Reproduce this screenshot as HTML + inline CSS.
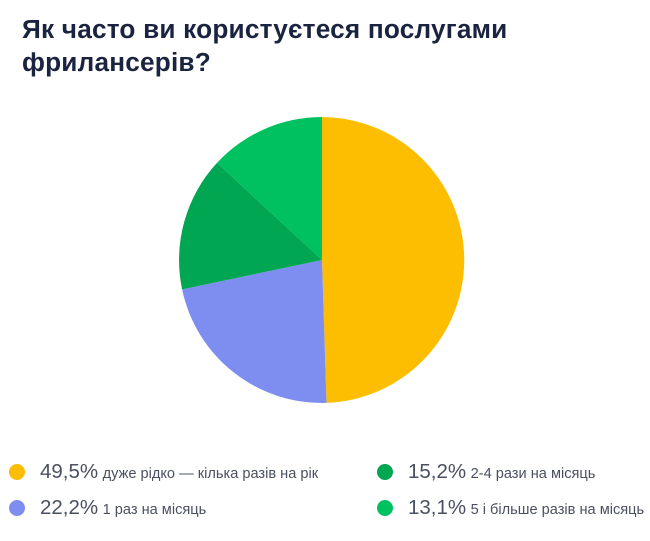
<!DOCTYPE html>
<html><head><meta charset="utf-8"><style>
body{margin:0;width:650px;height:541px;background:#fff;overflow:hidden;font-family:"Liberation Sans","DejaVu Sans",sans-serif;position:relative}
h1{position:absolute;left:22px;top:13px;margin:0;font-size:26.2px;line-height:33px;font-weight:bold;color:#1a2340;letter-spacing:0.2px}
.l{position:absolute;color:#4a5060;white-space:nowrap;line-height:26px}
.l i{position:absolute;left:-31px;top:5px;width:16px;height:16px;border-radius:50%}
.l b{font-weight:normal;font-size:20.5px}
.l span{font-size:14.6px}
</style></head><body>
<h1>Як часто ви користуєтеся послугами<br>фрилансерів?</h1>
<svg width="650" height="541" style="position:absolute;left:0;top:0">
<path d="M322,260 L322,117 A143,143 0 0 1 326.5,402.9 Z" fill="#fdbd00"/>
<path d="M322,260 L326.5,402.9 A143,143 0 0 1 182.1,289.4 Z" fill="#7e8ef0"/>
<path d="M322,260 L182.1,289.4 A143,143 0 0 1 217.1,162.8 Z" fill="#00a651"/>
<path d="M322,260 L217.1,162.8 A143,143 0 0 1 322,117 Z" fill="#00c160"/>
</svg>
<div class="l" style="left:40px;top:459px"><i style="background:#fdbd00"></i><b>49,5%</b> <span>дуже рідко — кілька разів на рік</span></div>
<div class="l" style="left:40px;top:495px"><i style="background:#7e8ef0"></i><b>22,2%</b> <span>1 раз на місяць</span></div>
<div class="l" style="left:408px;top:459px"><i style="background:#00a651"></i><b>15,2%</b> <span>2-4 рази на місяць</span></div>
<div class="l" style="left:408px;top:495px"><i style="background:#00c160"></i><b>13,1%</b> <span>5 і більше разів на місяць</span></div>
</body></html>
